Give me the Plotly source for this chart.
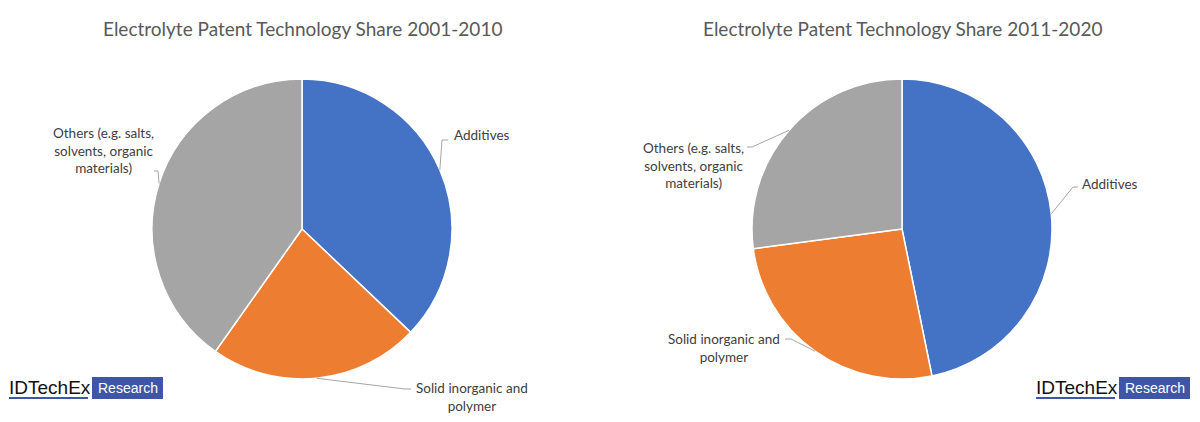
import math
import plotly.graph_objects as go

# The page body adds an 8 px margin, so the figure is drawn 8 px in from the window edge.
OFF = 8
W, H = 1200 - 2 * OFF, 422 - 2 * OFF

categories = ["Additives", "Solid inorganic and polymer", "Others (e.g. salts, solvents, organic materials)"]
label_text = ["Additives", "Solid inorganic and<br>polymer", "Others (e.g. salts,<br>solvents, organic<br>materials)"]
values_2001_2010 = [37.1, 22.7, 40.2]
values_2011_2020 = [46.8, 26.1, 27.1]
titles = ["Electrolyte Patent Technology Share 2001-2010", "Electrolyte Patent Technology Share 2011-2020"]
colors = ["#4472C4", "#ED7D31", "#A5A5A5"]

# pie geometry in window pixels (layout)
pies = [
    dict(cx=302, cy=229, r=150, values=values_2001_2010, title=titles[0],
         labels=[(452, 135, "left"), (472, 397, "center"), (103, 150, "center")],
         elbows=[[(442, 140), (448, 140)], [(405, 389), (411, 389)], [(158, 171), (154, 171)]]),
    dict(cx=902, cy=229, r=150, values=values_2011_2020, title=titles[1],
         labels=[(1080, 184, "left"), (724, 348, "center"), (693, 165, "center")],
         elbows=[[(1073, 187), (1078, 187)], [(791, 339), (785, 339)], [(752, 147), (747, 147)]]),
]


def px(x):
    return (x - OFF) / W


def py(y):
    return 1 - (y - OFF) / H


fig = go.Figure()
annotations = []
shapes = []
font_family = "Lato, Open Sans, sans-serif"

for p in pies:
    cx, cy, r = p["cx"], p["cy"], p["r"]
    fig.add_trace(go.Pie(
        labels=categories,
        values=p["values"],
        sort=False,
        direction="clockwise",
        rotation=0,
        textinfo="none",
        hoverinfo="label+percent",
        marker=dict(colors=colors, line=dict(color="white", width=1.5)),
        domain=dict(x=[px(cx - r), px(cx + r)], y=[py(cy + r), py(cy - r)]),
        showlegend=False,
    ))
    annotations.append(dict(
        text=p["title"], x=px(cx), y=py(28), xref="paper", yref="paper",
        xanchor="center", yanchor="middle", showarrow=False,
        font=dict(family=font_family, size=19, color="#595959"),
    ))
    total = sum(p["values"])
    cum = 0.0
    for i, v in enumerate(p["values"]):
        mid = (cum + v / 2) / total * 2 * math.pi
        cum += v
        rx = cx + r * math.sin(mid)
        ry = cy - r * math.cos(mid)
        pts = [(rx, ry)] + p["elbows"][i]
        path = "M " + " L ".join(f"{px(a)},{py(b)}" for a, b in pts)
        shapes.append(dict(type="path", path=path, xref="paper", yref="paper",
                           line=dict(color="#A6A6A6", width=1)))
        lx, ly, anc = p["labels"][i]
        annotations.append(dict(
            text=label_text[i], x=px(lx), y=py(ly), xref="paper", yref="paper",
            xanchor=anc, yanchor="middle", align="center", showarrow=False,
            font=dict(family=font_family, size=13.5, color="#404040"),
        ))

# IDTechEx Research logos
for (tx0, tx1, bx0, bx1) in [(9, 88, 92, 163), (1036, 1115, 1119, 1190)]:
    annotations.append(dict(
        text="IDTechEx", x=px(tx0 - 2), y=py(387), xref="paper", yref="paper",
        xanchor="left", yanchor="middle", showarrow=False,
        font=dict(family="Liberation Sans, Arial, sans-serif", size=19, color="#111111"),
    ))
    shapes.append(dict(type="line", x0=px(tx0), x1=px(tx1), y0=py(398), y1=py(398),
                       xref="paper", yref="paper", line=dict(color="#3F56A6", width=2)))
    shapes.append(dict(type="rect", x0=px(bx0), x1=px(bx1), y0=py(399), y1=py(377),
                       xref="paper", yref="paper", fillcolor="#3F56A6", line=dict(width=0)))
    annotations.append(dict(
        text="Research", x=px((bx0 + bx1) / 2), y=py(388), xref="paper", yref="paper",
        xanchor="center", yanchor="middle", showarrow=False,
        font=dict(family="Liberation Sans, Arial, sans-serif", size=14, color="white"),
    ))

fig.update_layout(
    width=W, height=H,
    margin=dict(l=0, r=0, t=0, b=0),
    paper_bgcolor="white", plot_bgcolor="white",
    annotations=annotations, shapes=shapes,
)

fig.write_html("out.html")
